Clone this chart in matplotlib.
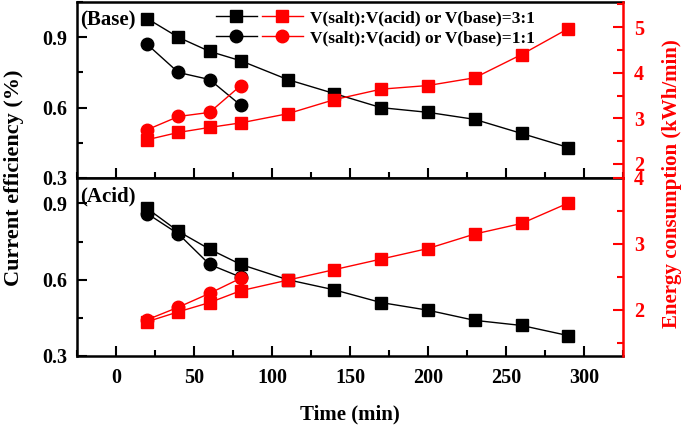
import matplotlib
matplotlib.use("Agg")
import matplotlib.pyplot as plt
from matplotlib.legend_handler import HandlerTuple
from matplotlib.lines import Line2D
from matplotlib.ticker import MultipleLocator

plt.rcParams['font.family'] = ['Liberation Serif', 'DejaVu Serif']
plt.rcParams['font.weight'] = 'bold'

# Time points
t_31 = [20, 40, 60, 80, 110, 140, 170, 200, 230, 260, 290]
t_11 = [20, 40, 60, 80]

# Base panel
base_ce_31 = [0.98, 0.90, 0.84, 0.80, 0.72, 0.66, 0.60, 0.58, 0.55, 0.49, 0.43]
base_ce_11 = [0.87, 0.75, 0.72, 0.61]
base_ec_31 = [2.53, 2.69, 2.80, 2.90, 3.10, 3.41, 3.64, 3.72, 3.89, 4.40, 4.97]
base_ec_11 = [2.75, 3.04, 3.13, 3.72]

# Acid panel
acid_ce_31 = [0.88, 0.79, 0.72, 0.66, 0.60, 0.56, 0.51, 0.48, 0.44, 0.42, 0.38]
acid_ce_11 = [0.86, 0.78, 0.66, 0.61]
acid_ec_31 = [1.82, 1.97, 2.11, 2.29, 2.45, 2.61, 2.77, 2.93, 3.15, 3.31, 3.62]
acid_ec_11 = [1.85, 2.04, 2.25, 2.48]

legend_labels = ["V(salt):V(acid) or V(base)=3:1", "V(salt):V(acid) or V(base)=1:1"]

RED = '#ff0000'
FS = 14.5

fig = plt.figure(figsize=(6.85, 4.32), dpi=100)
L, W = 0.1124, 0.797
ax1 = fig.add_axes([L, 0.588, W, 0.407])
ax2 = fig.add_axes([L, 0.176, W, 0.412])

def style(ax, ylim, twin_ylim, twin_major, twin_minor, show_xlabels):
    ax.set_xlim(-25, 325)
    ax.set_ylim(*ylim)
    ax.xaxis.set_major_locator(MultipleLocator(50))
    ax.xaxis.set_minor_locator(MultipleLocator(25))
    ax.yaxis.set_major_locator(MultipleLocator(0.3))
    ax.yaxis.set_minor_locator(MultipleLocator(0.15))
    ax.tick_params(which='both', direction='in', width=1.5, top=False, right=False,
                   labelsize=FS, pad=7)
    ax.tick_params(which='major', length=7)
    ax.tick_params(which='minor', length=4)
    if not show_xlabels:
        ax.tick_params(axis='x', labelbottom=False)
    for s in ax.spines.values():
        s.set_linewidth(1.8)
    ax.spines['right'].set_visible(False)
    for lab in ax.get_yticklabels() + ax.get_xticklabels():
        lab.set_fontweight('bold')
    tw = ax.twinx()
    tw.set_ylim(*twin_ylim)
    tw.yaxis.set_major_locator(MultipleLocator(twin_major))
    tw.yaxis.set_minor_locator(MultipleLocator(twin_minor))
    tw.tick_params(which='both', direction='in', width=1.5, colors=RED,
                   labelsize=FS, pad=8)
    tw.tick_params(which='major', length=7)
    tw.tick_params(which='minor', length=4)
    for k, s in tw.spines.items():
        s.set_visible(k == 'right')
    tw.spines['right'].set_color(RED)
    tw.spines['right'].set_linewidth(1.8)
    for lab in tw.get_yticklabels():
        lab.set_fontweight('bold')
    return tw

tw1 = style(ax1, (0.3, 1.05), (1.69, 5.55), 1, 0.5, False)
tw2 = style(ax2, (0.3, 1.0), (1.3, 4.0), 1, 0.5, True)
ax2.tick_params(axis='x', pad=9)

ms = 9
def draw(ax, tw, ce31, ce11, ec31, ec11):
    ax.plot(t_31, ce31, color='black', lw=1, marker='s', ms=ms, zorder=3)
    ax.plot(t_11, ce11, color='black', lw=1, marker='o', ms=ms, zorder=3)
    tw.plot(t_31, ec31, color=RED, lw=1, marker='s', ms=ms,
            markeredgecolor=RED, zorder=3)
    tw.plot(t_11, ec11, color=RED, lw=1, marker='o', ms=ms,
            markeredgecolor=RED, zorder=3)

draw(ax1, tw1, base_ce_31, base_ce_11, base_ec_31, base_ec_11)
draw(ax2, tw2, acid_ce_31, acid_ce_11, acid_ec_31, acid_ec_11)

h1 = (Line2D([], [], color='black', lw=1, marker='s', ms=ms),
      Line2D([], [], color=RED, lw=1, marker='s', ms=ms))
h2 = (Line2D([], [], color='black', lw=1, marker='o', ms=ms),
      Line2D([], [], color=RED, lw=1, marker='o', ms=ms))
leg = tw1.legend([h1, h2], legend_labels,
                 handler_map={tuple: HandlerTuple(ndivide=None, pad=0.3)},
                 loc='upper right', bbox_to_anchor=(0.868, 1.045), frameon=False,
                 handlelength=5.0, handletextpad=0.45, labelspacing=0.25,
                 prop={'family': 'Liberation Serif', 'weight': 'bold', 'size': 12.5})

ax1.text(0.005, 0.955, '(Base)', transform=ax1.transAxes, ha='left', va='top',
         fontsize=15, fontweight='bold')
ax2.text(0.005, 0.955, '(Acid)', transform=ax2.transAxes, ha='left', va='top',
         fontsize=15, fontweight='bold')

fig.text(0.02, 0.588, 'Current efficiency (%)', rotation=90, ha='center', va='center',
         fontsize=16, fontweight='bold')
fig.text(0.981, 0.575, 'Energy consumption (kWh/min)', rotation=90, ha='center',
         va='center', fontsize=15, fontweight='bold', color=RED)
fig.text(0.511, 0.04, 'Time (min)', ha='center', va='center', fontsize=15,
         fontweight='bold')

fig.savefig('out.png', dpi=100)
